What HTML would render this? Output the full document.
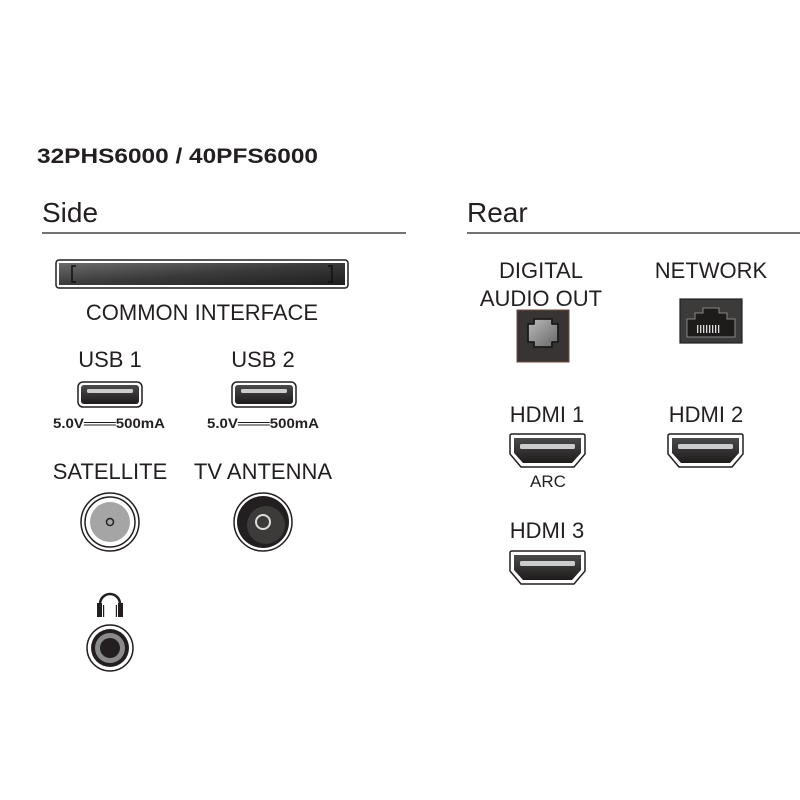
<!DOCTYPE html>
<html><head><meta charset="utf-8"><style>
html,body{margin:0;padding:0;background:#fff;}
svg{display:block}
text{font-family:"Liberation Sans",sans-serif;fill:#231f20}
</style></head><body>
<svg width="800" height="800" viewBox="0 0 800 800" xmlns="http://www.w3.org/2000/svg">
<defs>
<linearGradient id="ci" x1="0" y1="0" x2="1" y2="1"><stop offset="0" stop-color="#6b6b6b"/><stop offset="0.5" stop-color="#3a3a3a"/><stop offset="1" stop-color="#1e1e1e"/></linearGradient>
<linearGradient id="dk" x1="0" y1="0" x2="0" y2="1"><stop offset="0" stop-color="#4a4a4a"/><stop offset="1" stop-color="#1f1b1b"/></linearGradient>
<linearGradient id="tos" x1="0" y1="0" x2="1" y2="1"><stop offset="0" stop-color="#bbb"/><stop offset="1" stop-color="#666"/></linearGradient>
<g id="usb"><rect x="0" y="0" width="64" height="25" rx="5" fill="#fff" stroke="#231f20" stroke-width="1.5"/><rect x="3" y="3" width="58" height="19" rx="3" fill="url(#dk)"/><rect x="9" y="7" width="46" height="4" rx="1.5" fill="#ccc"/></g>
<g id="hdmi"><path d="M0,2 Q0,0 2,0 H73 Q75,0 75,2 V20 L64,33 H11 L0,20 Z" fill="#fff" stroke="#231f20" stroke-width="1.5"/><path d="M4,4 H71 V19 L62,29 H13 L4,19 Z" fill="url(#dk)"/><rect x="10" y="10" width="55" height="5" rx="1.5" fill="#ccc"/></g>
</defs>
<text x="37" y="163" font-size="21" font-weight="bold" textLength="281" lengthAdjust="spacingAndGlyphs">32PHS6000 / 40PFS6000</text>
<text x="42" y="222" font-size="28">Side</text>
<line x1="42" y1="233" x2="406" y2="233" stroke="#231f20" stroke-width="1.3"/>
<text x="467" y="222" font-size="28">Rear</text>
<line x1="467" y1="233" x2="800" y2="233" stroke="#231f20" stroke-width="1.3"/>

<rect x="56" y="260" width="292" height="28" rx="3" fill="#fff" stroke="#231f20" stroke-width="1.5"/>
<rect x="59" y="263" width="286" height="22" fill="url(#ci)"/>
<path d="M76,266 h-4 v16 h4 M328,266 h4 v16 h-4" fill="none" stroke="#111" stroke-width="1.5"/>
<text x="202" y="320" font-size="22" text-anchor="middle">COMMON INTERFACE</text>

<text x="110" y="367" font-size="22" text-anchor="middle">USB 1</text>
<use href="#usb" x="78" y="382"/>
<text x="53" y="428" font-size="14" font-weight="bold" textLength="112" lengthAdjust="spacingAndGlyphs">5.0V═══500mA</text>
<text x="263" y="367" font-size="22" text-anchor="middle">USB 2</text>
<use href="#usb" x="232" y="382"/>
<text x="207" y="428" font-size="14" font-weight="bold" textLength="112" lengthAdjust="spacingAndGlyphs">5.0V═══500mA</text>

<text x="110" y="479" font-size="22" text-anchor="middle">SATELLITE</text>
<text x="263" y="479" font-size="22" text-anchor="middle">TV ANTENNA</text>
<circle cx="110" cy="522" r="29" fill="#fff" stroke="#231f20" stroke-width="1.5"/>
<circle cx="110" cy="522" r="25" fill="none" stroke="#231f20" stroke-width="1.5"/>
<circle cx="110" cy="522" r="20" fill="#a5a5a5"/>
<circle cx="110" cy="522" r="3.5" fill="none" stroke="#231f20" stroke-width="1.5"/>
<circle cx="263" cy="522" r="29" fill="#fff" stroke="#231f20" stroke-width="1.5"/>
<circle cx="263" cy="522" r="26" fill="#231f20"/>
<circle cx="266" cy="525" r="19" fill="#3d3a3a"/>
<circle cx="263" cy="522" r="7" fill="none" stroke="#ddd" stroke-width="2"/>

<path d="M100,612 v-8 a10,10 0 0 1 20,0 v8" fill="none" stroke="#231f20" stroke-width="2.5"/>
<rect x="97" y="603" width="5" height="14" fill="#231f20"/><rect x="118" y="603" width="5" height="14" fill="#231f20"/>
<rect x="103" y="605" width="1.2" height="12" fill="#231f20"/><rect x="115.8" y="605" width="1.2" height="12" fill="#231f20"/>
<circle cx="110" cy="648" r="23" fill="#fff" stroke="#231f20" stroke-width="1.5"/>
<circle cx="110" cy="648" r="19" fill="#231f20"/>
<circle cx="110" cy="648" r="15" fill="#8a8a8a"/>
<circle cx="110" cy="648" r="10" fill="#231f20"/>

<text x="541" y="278" font-size="22" text-anchor="middle">DIGITAL</text>
<text x="541" y="306" font-size="22" text-anchor="middle">AUDIO OUT</text>
<rect x="517" y="310" width="52" height="52" fill="#383434" stroke="#6b4a3a" stroke-width="1"/>
<path d="M534,319 h18 v5 h6 v18 h-6 v5 h-18 v-5 h-6 v-18 h6 z" fill="url(#tos)" stroke="#1a1a1a" stroke-width="1.8" stroke-linejoin="round"/>
<text x="711" y="278" font-size="22" text-anchor="middle">NETWORK</text>
<rect x="680" y="299" width="62" height="44" fill="#3d3a3a" stroke="#222" stroke-width="1.2"/>
<path d="M687,337 v-18 h8 v-6 h8 v-5 h16 v5 h8 v6 h8 v18 z" fill="#1e1b1b" stroke="#888" stroke-width="1"/>
<g fill="#ddd"><rect x="697" y="325" width="1.3" height="8"/><rect x="700" y="325" width="1.3" height="8"/><rect x="703" y="325" width="1.3" height="8"/><rect x="706" y="325" width="1.3" height="8"/><rect x="709" y="325" width="1.3" height="8"/><rect x="712" y="325" width="1.3" height="8"/><rect x="715" y="325" width="1.3" height="8"/><rect x="718" y="325" width="1.3" height="8"/></g>

<text x="547" y="422" font-size="22" text-anchor="middle">HDMI 1</text>
<use href="#hdmi" x="510" y="434"/>
<text x="548" y="487" font-size="17" text-anchor="middle">ARC</text>
<text x="706" y="422" font-size="22" text-anchor="middle">HDMI 2</text>
<use href="#hdmi" x="668" y="434"/>
<text x="547" y="538" font-size="22" text-anchor="middle">HDMI 3</text>
<use href="#hdmi" x="510" y="551"/>
</svg>
</body></html>
